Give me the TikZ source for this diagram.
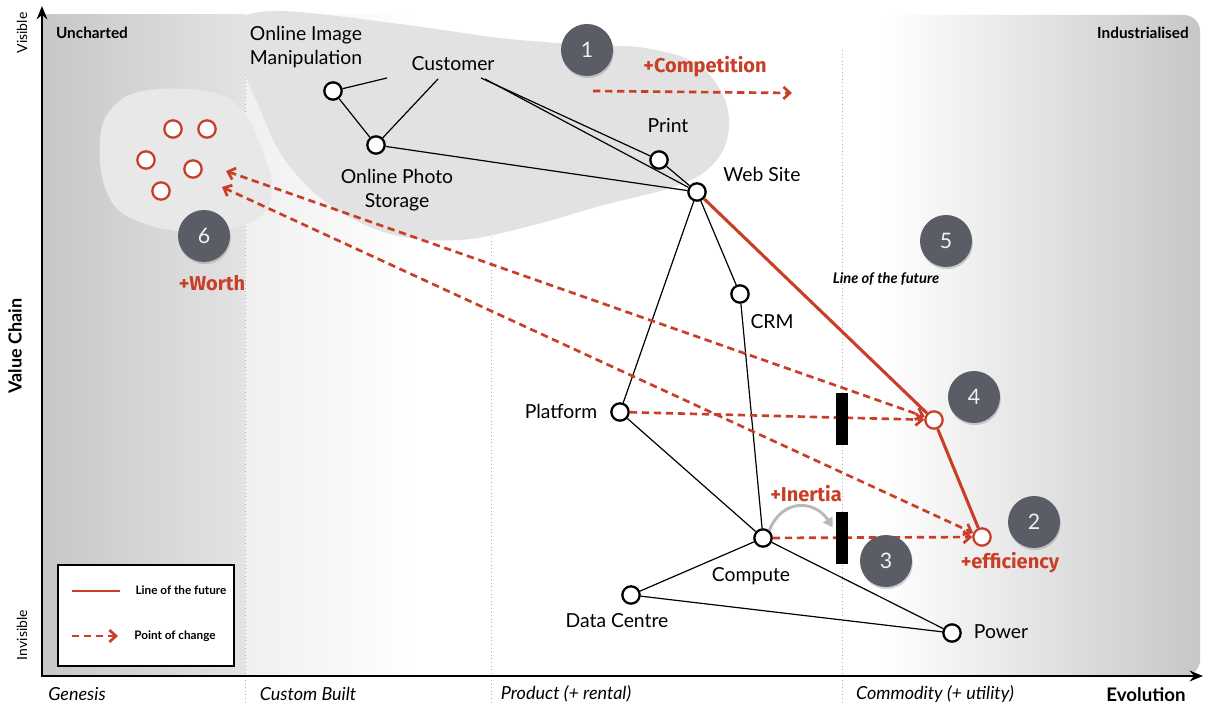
\documentclass[tikz,border=0pt]{standalone}
\usepackage{fontspec}
\setmainfont{Lato}
\newfontfamily\redfont{Fira Sans}
\usetikzlibrary{arrows.meta,shadows}
\definecolor{chg}{RGB}{200,62,38}
\definecolor{numc}{RGB}{90,93,102}
\definecolor{blobc}{RGB}{226,226,226}
\definecolor{blobs}{RGB}{232,232,232}
\begin{document}
\begin{tikzpicture}[x=0.75pt,y=-0.75pt,
  comp/.style={circle,draw=black,fill=white,line width=1.7pt,minimum size=13pt,inner sep=0pt},
  rcomp/.style={comp,draw=chg},
  lbl/.style={font=\fontsize{14.5}{18.5}\selectfont,align=center,inner sep=0pt},
  edge/.style={line width=0.9pt},
  chgline/.style={draw=chg,line width=2pt,dash pattern=on 5.5pt off 3.5pt},
  tipc/.style={-{Straight Barb[length=5pt,width=9pt]}},
  redlbl/.style={text=chg,font=\redfont\bfseries\fontsize{15}{17}\selectfont,inner sep=0pt},
  num/.style={circle,fill=numc,minimum size=39pt,inner sep=0pt,text=white!92!numc,
    font=\fontsize{16}{16}\selectfont,
    drop shadow={opacity=0.35,shadow xshift=0.6pt,shadow yshift=-1.6pt}},
  bar/.style={fill=black,minimum width=9.5pt,minimum height=39pt,inner sep=0pt},
  axlbl/.style={font=\itshape\fontsize{13.5}{15}\selectfont,inner sep=0pt},
  dotl/.style={gray!60,dotted,line width=0.7pt}
]
\useasboundingbox (0,0) rectangle (1205,705);
% background
\fill[white] (0,0) rectangle (1205,705);
\shade[left color=black!22,right color=black!11] (42,15) rectangle (245,676);
\shade[left color=black!6,right color=white] (245,15) rectangle (420,676);
\shade[left color=white,right color=black!22,rounded corners=12pt] (882,15) rectangle (1200,676);
% dotted evolution separators
\draw[dotl] (245,50) -- (245,705);
\draw[dotl] (491,50) -- (491,705);
\draw[dotl] (842,50) -- (842,705);
% blobs
\fill[blobs] plot[smooth cycle,tension=0.7] coordinates {(100,140) (115,105) (150,90) (210,92) (242,110) (262,150) (272,190) (255,220) (200,232) (140,222) (108,195)};
\fill[blobc] plot[smooth cycle,tension=0.6] coordinates {(236,22) (280,11) (400,24) (500,38) (587,45) (645,48) (697,64) (725,100) (727,140) (707,170) (670,188) (600,206) (530,226) (460,240) (390,234) (330,205) (285,160) (256,100) (236,50)};
% axes
\draw[line width=2.2pt,-{Stealth[length=10pt,width=8pt]}] (42,677) -- (42,6);
\draw[line width=2.2pt,-{Stealth[length=10pt,width=8pt]}] (41,676) -- (1203,676);
% axis labels
\node[rotate=90,font=\fontsize{10.5}{12}\selectfont] (vis) at (22,33) {Visible};
\node[rotate=90,font=\fontsize{10.5}{12}\selectfont] (invis) at (22,635) {Invisible};
\node[rotate=90,font=\bfseries\fontsize{13.5}{15}\selectfont] (vc) at (15,346) {Value Chain};
\node[font=\bfseries\fontsize{11.5}{12}\selectfont] (unch) at (92,33) {Uncharted};
\node[font=\bfseries\fontsize{11.5}{12}\selectfont] (ind) at (1143,33) {Industrialised};
\node[axlbl] (gen) at (77,694) {Genesis};
\node[axlbl] (cust) at (308,694) {Custom Built};
\node[axlbl] (prod) at (566,694) {Product (+ rental)};
\node[axlbl] (commod) at (935,694) {Commodity (+ utility)};
\node[font=\bfseries\fontsize{14}{15}\selectfont,inner sep=0pt] (evo) at (1146,695) {Evolution};
% component labels
\node[lbl] (loim) at (306,47) {Online Image\\Manipulation};
\node[lbl] (lcust) at (453,64) {Customer};
\node[lbl] (lops) at (397,190) {Online Photo\\Storage};
\node[lbl] (lprint) at (668,126) {Print};
\node[lbl] (lweb) at (762,174) {Web Site};
\node[lbl] (lcrm) at (772,322) {CRM};
\node[lbl] (lplat) at (561,411) {Platform};
\node[lbl] (lcmp) at (751,576) {Compute};
\node[lbl] (ldc) at (617,621) {Data Centre};
\node[lbl] (lpow) at (1001,632) {Power};
\node[font=\bfseries\itshape\fontsize{11}{12}\selectfont,inner sep=0pt] (lfut) at (886,279) {Line of the future};
% customer anchor points
\coordinate (cA) at (387,78);
\coordinate (cB) at (438,79);
\coordinate (cC) at (481,78);
\coordinate (cD) at (485,79);
% components
\node[comp] (oim) at (333,91) {};
\node[comp] (ops) at (376,145) {};
\node[comp] (print) at (659,160) {};
\node[comp] (web) at (697,192) {};
\node[comp] (crm) at (740,294) {};
\node[comp] (plat) at (620,412) {};
\node[comp] (cmp) at (763,538) {};
\node[comp] (dc) at (631,595) {};
\node[comp] (pow) at (952,633) {};
\node[rcomp] (red4) at (934,420) {};
\node[rcomp] (red2) at (982,537) {};
\node[rcomp] (r1) at (173,129) {};
\node[rcomp] (r2) at (207,129) {};
\node[rcomp] (r3) at (146,160) {};
\node[rcomp] (r4) at (193,169) {};
\node[rcomp] (r5) at (161,191) {};
% value chain edges
\draw[edge] (cA) -- (oim);
\draw[edge] (oim) -- (ops);
\draw[edge] (cB) -- (ops);
\draw[edge] (cC) -- (print);
\draw[edge] (cD) -- (web);
\draw[edge] (ops) -- (web);
\draw[edge] (print) -- (web);
\draw[edge] (web) -- (plat);
\draw[edge] (web) -- (crm);
\draw[edge] (crm) -- (cmp);
\draw[edge] (plat) -- (cmp);
\draw[edge] (cmp) -- (dc);
\draw[edge] (cmp) -- (pow);
\draw[edge] (dc) -- (pow);
% line of the future
\draw[chg,line width=2.3pt] (web) -- (red4) -- (red2);
% points of change
\coordinate (w1) at (226,171);
\coordinate (w2) at (222,187);
\coordinate (comp1) at (593,91);
\coordinate (comp2) at (792,93);
\draw[chgline,{Straight Barb[length=5pt,width=9pt]}-{Straight Barb[length=5pt,width=9pt]}] (w1) -- (red4);
\draw[chgline,{Straight Barb[length=5pt,width=9pt]}-{Straight Barb[length=5pt,width=9pt]}] (w2) -- (red2);
\draw[chgline,tipc] (plat) -- (red4);
\draw[chgline,tipc] (cmp) -- (red2);
\draw[chgline,tipc] (comp1) -- (comp2);
% inertia bars
\node[bar] (bar1) at (842,419) {};
\node[bar] (bar2) at (842,538) {};
\draw[gray!55,line width=2.2pt,-{Triangle[length=7pt,width=8pt]}] (cmp.50) .. controls (782,498) and (815,500) .. ([yshift=8pt,xshift=-2pt]bar2.west);
% red labels
\node[redlbl] (tcomp) at (705,67) {+Competition};
\node[redlbl] (tin) at (806,494) {+Inertia};
\node[redlbl] (teff) at (1010,563) {+efficiency};
\node[redlbl] (tw) at (212,283) {+Worth};
% numbered markers
\node[num] (n1) at (587,50) {1};
\node[num] (n2) at (1034,522) {2};
\node[num] (n3) at (886,561) {3};
\node[num] (n4) at (974,397) {4};
\node[num] (n5) at (946,241) {5};
\node[num] (n6) at (204,236) {6};
% legend
\node[draw=black,fill=white,line width=1pt,minimum width=132pt,minimum height=75.75pt,inner sep=0pt] (leg) at (146,615.5) {};
\coordinate (lg1a) at (72,591);
\coordinate (lg1b) at (120,591);
\coordinate (lg2a) at (72,636);
\coordinate (lg2b) at (118,636);
\draw[chg,line width=2.2pt] (lg1a) -- (lg1b);
\draw[chgline,tipc] (lg2a) -- (lg2b);
\node[font=\bfseries\fontsize{8.8}{10}\selectfont,inner sep=0pt] (leg1) at (181,590) {Line of the future};
\node[font=\bfseries\fontsize{8.8}{10}\selectfont,inner sep=0pt] (leg2) at (175,636) {Point of change};
\end{tikzpicture}
\end{document}
